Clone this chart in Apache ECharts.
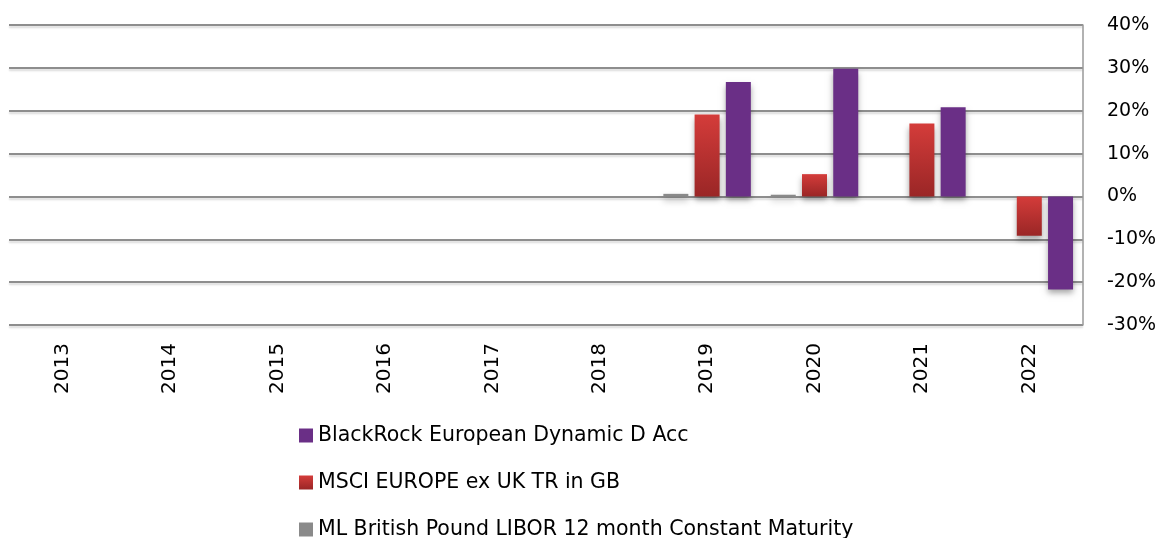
<!DOCTYPE html>
<html lang="en">
<head>
    <meta charset="UTF-8">
    <title>BlackRock European Dynamic</title>
    <style>
        html, body { margin: 0; padding: 0; background: #fff; }
        #container { width: 1161px; height: 538px; }
    </style>
</head>
<body>
<div id="container"></div>
<script src="https://cdn.jsdelivr.net/npm/echarts@6/dist/echarts.min.js"></script>
<script>
    // 年份
    var years = ['2013', '2014', '2015', '2016', '2017', '2018', '2019', '2020', '2021', '2022'];
    // 各系列年度回报 (%)
    var libor = [null, null, null, null, null, null, 0.6, 0.4, 0, 0];
    var msci = [null, null, null, null, null, null, 19.1, 5.2, 17.0, -9.2];
    var blackrock = [null, null, null, null, null, null, 26.7, 29.8, 20.8, -21.7];
    var names = ['ML British Pound LIBOR 12 month Constant Maturity', 'MSCI EUROPE ex UK TR in GB', 'BlackRock European Dynamic D Acc'];

    var font = 'DejaVu Sans';
    var shadow = { shadowColor: 'rgba(0,0,0,0.35)', shadowBlur: 6, shadowOffsetY: 4 };

    var myChart = echarts.init(document.getElementById('container'));
    var option = {
        animation: false,
        grid: { left: 9, right: 78, top: 25, bottom: 213 },
        legend: {
            orient: 'vertical',
            left: 294,
            top: 420,
            height: 130,
            itemWidth: 14,
            itemHeight: 14,
            itemGap: 26,
            icon: 'rect',
            data: [names[2], names[1], names[0]],
            textStyle: { fontFamily: font, fontSize: 20.5, color: '#000' }
        },
        xAxis: {
            type: 'category',
            data: years,
            axisLine: { show: false },
            axisTick: { show: false },
            axisLabel: { rotate: 90, margin: 18, fontFamily: font, fontSize: 20, color: '#000' }
        },
        yAxis: {
            type: 'value',
            position: 'right',
            min: -30,
            max: 40,
            interval: 10,
            axisLine: { show: true, lineStyle: { color: '#999', width: 1.5 } },
            axisTick: { show: false },
            axisLabel: {
                formatter: '{value}%',
                align: 'left',
                margin: 24,
                fontFamily: font,
                fontSize: 19,
                color: '#000'
            },
            splitLine: {
                lineStyle: { color: '#8e8e8e', width: 2, shadowColor: 'rgba(0,0,0,0.15)', shadowBlur: 2, shadowOffsetY: 2 }
            }
        },
        series: [{
            name: names[0],
            type: 'bar',
            data: libor,
            barWidth: 25,
            barGap: '25%',
            itemStyle: Object.assign({ color: '#8a8a8a' }, shadow)
        }, {
            name: names[1],
            type: 'bar',
            data: msci,
            barWidth: 25,
            barGap: '25%',
            itemStyle: Object.assign({
                color: new echarts.graphic.LinearGradient(0, 0, 0, 1, [
                    { offset: 0, color: '#d43c3a' },
                    { offset: 1, color: '#9a2626' }
                ])
            }, shadow)
        }, {
            name: names[2],
            type: 'bar',
            data: blackrock,
            barWidth: 25,
            barGap: '25%',
            itemStyle: Object.assign({ color: '#6a2f86' }, shadow)
        }]
    };

    if (option && typeof option === "object") {
        myChart.setOption(option, true);
    }
</script>
</body>
</html>
